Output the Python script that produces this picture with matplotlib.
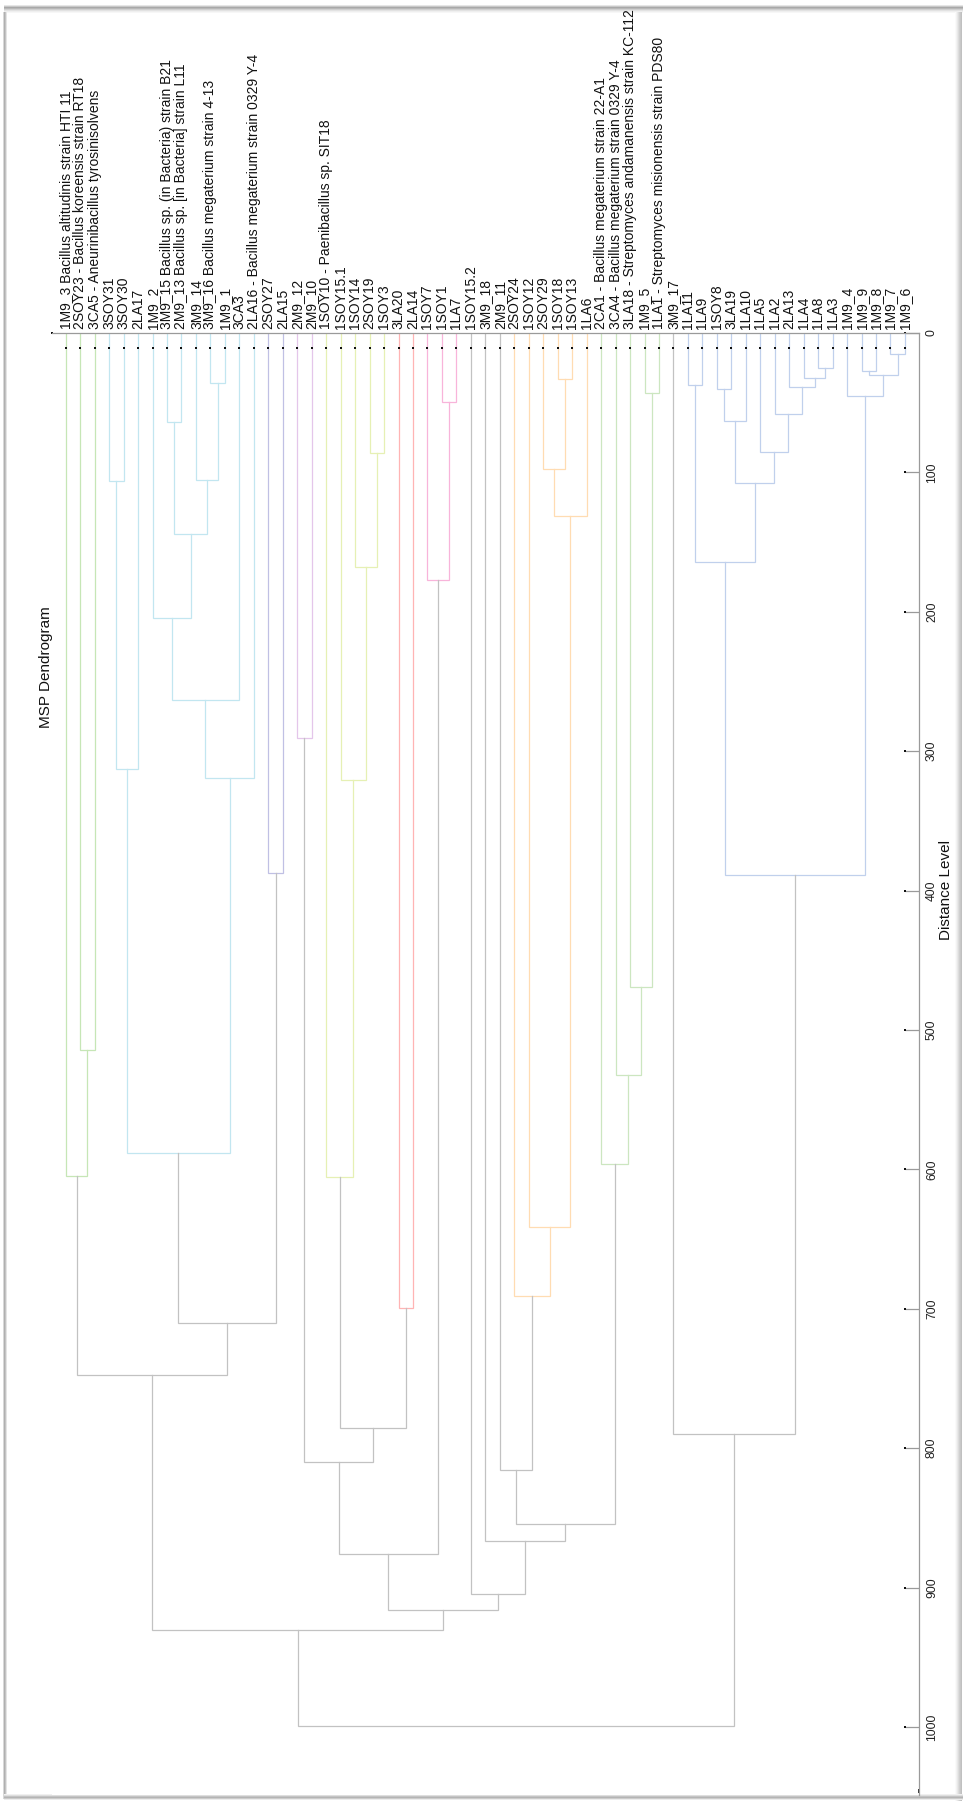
import numpy as np
import matplotlib
matplotlib.use("Agg")
from matplotlib import pyplot as plt
from matplotlib.patches import Rectangle

plt.rcParams['font.family'] = ['Liberation Sans', 'DejaVu Sans']

# leaves in display order
leaf_labels = [
    "1M9_3 Bacillus altitudinis strain HTI 11",
    "2SOY23 - Bacillus koreensis strain RT18",
    "3CA5 - Aneurinibacillus tyrosinisolvens",
    "3SOY31", "3SOY30", "2LA17", "1M9_2",
    "3M9_15 Bacillus sp. (in Bacteria) strain B21",
    "2M9_13 Bacillus sp. [in Bacteria] strain L11",
    "3M9_14",
    "3M9_16 Bacillus megaterium strain 4-13",
    "1M9_1", "3CA3",
    "2LA16 - Bacillus megaterium strain 0329 Y-4",
    "2SOY27", "2LA15", "2M9_12", "2M9_10",
    "1SOY10 - Paenibacillus sp. SIT18",
    "1SOY15.1", "1SOY14", "2SOY19", "1SOY3", "3LA20", "2LA14",
    "1SOY7", "1SOY1", "1LA7", "1SOY15.2", "3M9_18", "2M9_11",
    "2SOY24", "1SOY12", "2SOY29", "1SOY18", "1SOY13", "1LA6",
    "2CA1 - Bacillus megaterium strain 22-A1",
    "3CA4 - Bacillus megaterium strain 0329 Y-4",
    "3LA18 - Streptomyces andamanensis strain KC-112",
    "1M9_5",
    "1LA1 - Streptomyces misionensis strain PDS80",
    "3M9_17", "1LA11", "1LA9", "1SOY8", "3LA19", "1LA10", "1LA5",
    "1LA2", "2LA13", "1LA4", "1LA8", "1LA3", "1M9_4", "1M9_9",
    "1M9_8", "1M9_7", "1M9_6",
]

# linkage rows: (child a, child b, distance); ids >= 59 are earlier rows
merges = [
    (57, 58, 15.1), (52, 53, 25.3), (55, 56, 27.3), (61, 59, 30.1),
    (51, 60, 32.5), (34, 35, 33.2), (10, 11, 36.1), (43, 44, 37.3),
    (50, 63, 38.5), (45, 46, 40.2), (40, 41, 43.3), (54, 62, 45.2),
    (26, 27, 49.7), (49, 67, 58.3), (68, 47, 63.1), (7, 8, 64.1),
    (48, 72, 85.1), (21, 22, 86.3), (33, 64, 97.8), (9, 65, 105.5),
    (3, 4, 106.2), (73, 75, 107.6), (77, 36, 131.5), (74, 78, 144.4),
    (66, 80, 164.5), (20, 76, 167.6), (25, 71, 177.4), (6, 82, 204.7),
    (86, 12, 263.3), (16, 17, 290.7), (79, 5, 312.8), (87, 13, 319.4),
    (19, 84, 320.7), (14, 15, 387.2), (83, 70, 388.8), (39, 69, 469.4),
    (1, 2, 514.6), (38, 94, 532.5), (89, 90, 588.4), (37, 96, 596.3),
    (0, 95, 604.7), (18, 91, 605.2), (32, 81, 641.5), (31, 101, 690.6),
    (23, 24, 699.6), (97, 92, 710.4), (99, 104, 747.7), (100, 103, 785.5),
    (42, 93, 790.0), (88, 106, 809.7), (30, 102, 815.9), (109, 98, 854.6),
    (29, 110, 866.6), (108, 85, 875.9), (28, 111, 904.8), (112, 113, 916.3),
    (105, 114, 930.6), (115, 107, 999.3),
]

# coloured clades: first leaf, last leaf, colour
clades = [
    (0, 2, '#c6e6b6'), (3, 13, '#c2e6f0'), (14, 15, '#c0c0e4'),
    (16, 17, '#e4c6ea'), (18, 22, '#e6f0b4'), (23, 24, '#ffb4b4'),
    (25, 27, '#f8b4da'), (31, 36, '#ffdcb2'), (37, 41, '#cce6c0'),
    (43, 58, '#c0d0ec'),
]
link_gray = '#c2c2c2'
axis_gray = '#9a9a9a'
dist_ticks = list(range(0, 1001, 100))

W, H = 963, 1803
fig = plt.figure(figsize=(W / 100, H / 100), dpi=100)

# window frame / shadow
bg = fig.add_axes([0, 0, 1, 1], zorder=-5)
bg.set_xlim(0, W)
bg.set_ylim(H, 0)
bg.axis('off')
for i, c in enumerate(['#e6e6e6', '#c8c8c8', '#a8a8a8', '#b8b8b8', '#cfcfcf', '#e2e2e2', '#efefef', '#f7f7f7']):
    bg.add_patch(Rectangle((4, 5 + i), W - 4, 1, color=c, lw=0))
for i, c in enumerate(['#d8d8d8', '#b0b0b0', '#c4c4c4', '#e4e4e4']):
    bg.add_patch(Rectangle((3 + i, 12), 1, H - 16, color=c, lw=0))
for i, c in enumerate(['#fafafa', '#f2f2f2', '#e8e8e8', '#dcdcdc', '#d0d0d0', '#c8c8c8', '#c0c0c0']):
    bg.add_patch(Rectangle((W - 8 + i, 12), 1, H - 14, color=c, lw=0))
for i, c in enumerate(['#f0f0f0', '#dedede', '#c4c4c4', '#b4b4b4', '#cccccc', '#ececec']):
    bg.add_patch(Rectangle((4, H - 9 + i), W - 4, 1, color=c, lw=0))

ax = fig.add_axes([52 / W, 1 - 1795 / H, (919 - 52) / W, (1795 - 333) / H])
n = len(leaf_labels)
xpos = {i: float(i) for i in range(n)}
ypos = {i: 0.0 for i in range(n)}
leaves = {i: [i] for i in range(n)}

for k, (a, b, h) in enumerate(merges):
    cid = n + k
    leaves[cid] = leaves[a] + leaves[b]
    lo, hi = min(leaves[cid]), max(leaves[cid])
    color = link_gray
    for first, last, c in clades:
        if lo >= first and hi <= last:
            color = c
    ax.plot([xpos[a], xpos[a], xpos[b], xpos[b]], [ypos[a], h, h, ypos[b]],
            color=color, lw=0.9, solid_joinstyle='miter')
    xpos[cid] = (xpos[a] + xpos[b]) / 2
    ypos[cid] = h

# leaf markers
ax.plot(range(n), [10.8] * n, 's', color='#111111', ms=1.6, mew=0)

ax.set_xlim(-0.947, 58.97)
ax.set_ylim(1048.8, 0)
for side in ['left', 'bottom']:
    ax.spines[side].set_visible(False)
for side in ['top', 'right']:
    ax.spines[side].set_color(axis_gray)
    ax.spines[side].set_linewidth(0.9)

ax.xaxis.tick_top()
ax.set_xticks(range(n))
ax.set_xticklabels(leaf_labels, rotation=90, fontsize=10, color='#111111')
ax.tick_params(axis='x', length=0, pad=3)

ax.yaxis.tick_right()
ax.set_yticks(dist_ticks)
ax.set_yticklabels([str(t) for t in dist_ticks], rotation=90, va='center',
                   fontsize=8.7, color='#222222')
ax.tick_params(axis='y', direction='in', length=10, width=0.9, color=axis_gray, pad=5)
ax.plot([58.0] * len(dist_ticks), dist_ticks, 's', color='#111111', ms=1.6, mew=0, clip_on=False)
ax.plot([-0.947], [0], 's', color='#111111', ms=1.6, mew=0, clip_on=False)
ax.plot([58.97], [1046], '|', color='#111111', ms=3, mew=1.2, clip_on=False)

fig.text(46 / W, 1 - 667 / H, "MSP Dendrogram", rotation=90, ha='center', va='center',
         fontsize=11, color='#111111')
fig.text(946 / W, 1 - 890 / H, "Distance Level", rotation=90, ha='center', va='center',
         fontsize=11, color='#111111')

fig.savefig("out.png", dpi=100)
